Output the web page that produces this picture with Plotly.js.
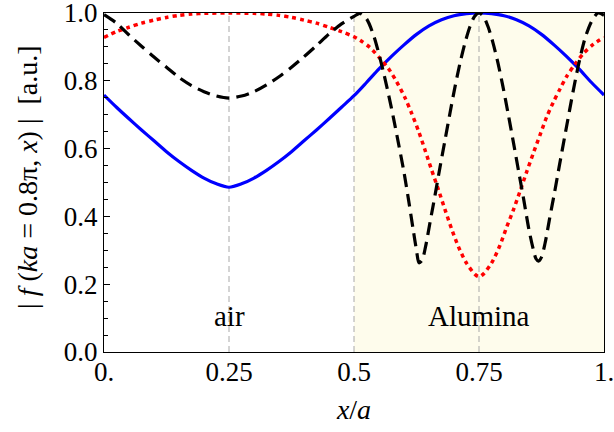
<!DOCTYPE html>
<html>
<head>
<meta charset="utf-8">
<script src="https://cdn.plot.ly/plotly-3.0.1.min.js"></script>
<style>html,body{margin:0;padding:0;background:#fff;}#chart{width:614px;height:432px;}</style>
</head>
<body>
<div id="chart"></div>
<script>
// Blue (solid) curve
const blueX = [0, 0.025, 0.05, 0.075, 0.1, 0.125, 0.15, 0.175, 0.2, 0.225, 0.25, 0.275, 0.3, 0.325, 0.35, 0.375, 0.4, 0.425, 0.45, 0.475, 0.5,
  0.525, 0.55, 0.575, 0.6, 0.625, 0.65, 0.675, 0.7, 0.725, 0.75, 0.775, 0.8, 0.825, 0.85, 0.875, 0.9, 0.925, 0.95, 0.975, 1.0];
const blueY = [0.758, 0.722, 0.688, 0.655, 0.623, 0.591, 0.562, 0.536, 0.513, 0.496, 0.486, 0.496, 0.513, 0.536, 0.562, 0.591, 0.623, 0.655, 0.688, 0.722, 0.756,
  0.795, 0.835, 0.872, 0.906, 0.937, 0.962, 0.980, 0.992, 0.998, 1.0, 0.998, 0.992, 0.980, 0.962, 0.937, 0.906, 0.872, 0.835, 0.795, 0.758];

// Red (dotted) curve
const redX = [0, 0.025, 0.05, 0.075, 0.1, 0.125, 0.15, 0.175, 0.2, 0.25, 0.3, 0.325, 0.35, 0.375, 0.4, 0.425, 0.45, 0.475, 0.5,
  0.512, 0.532, 0.552, 0.569, 0.585, 0.602, 0.615, 0.629, 0.642, 0.655, 0.669, 0.682, 0.695, 0.709, 0.725, 0.742, 0.75,
  0.758, 0.775, 0.792, 0.805, 0.819, 0.832, 0.845, 0.859, 0.872, 0.885, 0.899, 0.912, 0.925, 0.942, 0.959, 0.979, 1.0];
const redY = [0.928, 0.945, 0.958, 0.970, 0.979, 0.987, 0.993, 0.997, 0.999, 1.0, 0.999, 0.997, 0.993, 0.987, 0.979, 0.970, 0.958, 0.945, 0.930,
  0.920, 0.898, 0.866, 0.836, 0.798, 0.750, 0.705, 0.652, 0.596, 0.538, 0.478, 0.420, 0.364, 0.310, 0.262, 0.229, 0.222,
  0.229, 0.262, 0.315, 0.367, 0.420, 0.474, 0.530, 0.588, 0.640, 0.692, 0.738, 0.776, 0.812, 0.849, 0.881, 0.908, 0.928];

// Black (dashed) curve
const blackX = [0, 0.025, 0.05, 0.075, 0.1, 0.125, 0.15, 0.175, 0.2, 0.225, 0.25, 0.275, 0.3, 0.325, 0.35, 0.375, 0.4, 0.425, 0.45, 0.475, 0.5, 0.512,
  0.525, 0.539, 0.549, 0.559, 0.569, 0.579, 0.589, 0.6, 0.61, 0.619, 0.625, 0.63, 0.636, 0.643, 0.652, 0.662, 0.672, 0.682, 0.692, 0.702, 0.712, 0.722, 0.732, 0.741, 0.75,
  0.759, 0.768, 0.778, 0.788, 0.798, 0.808, 0.818, 0.829, 0.84, 0.85, 0.859, 0.864, 0.869, 0.875, 0.882, 0.891, 0.901, 0.911, 0.921, 0.931, 0.941, 0.951, 0.962, 0.975, 0.988, 1.0];
const blackY = [0.995, 0.970, 0.935, 0.902, 0.870, 0.840, 0.810, 0.786, 0.768, 0.755, 0.749, 0.755, 0.768, 0.788, 0.812, 0.840, 0.871, 0.904, 0.938, 0.968, 0.99, 0.999,
  0.983, 0.935, 0.884, 0.825, 0.760, 0.690, 0.615, 0.530, 0.440, 0.355, 0.300, 0.263, 0.270, 0.310, 0.382, 0.462, 0.545, 0.625, 0.705, 0.782, 0.852, 0.912, 0.960, 0.990, 1.0,
  0.990, 0.960, 0.912, 0.852, 0.782, 0.705, 0.625, 0.535, 0.445, 0.360, 0.300, 0.275, 0.268, 0.280, 0.320, 0.392, 0.470, 0.552, 0.632, 0.712, 0.790, 0.860, 0.925, 0.975, 1.0, 0.993];

const xTickVals = [0, 0.25, 0.5, 0.75, 1.0];
const xTickText = ['0.', '0.25', '0.5', '0.75', '1.'];
const yTickVals = [0, 0.2, 0.4, 0.6, 0.8, 1.0];
const yTickText = ['0.0', '0.2', '0.4', '0.6', '0.8', '1.0'];
const regionLabels = ['air', 'Alumina'];
const regionLabelX = [0.25, 0.75];
const dividerX = [0.25, 0.5, 0.75];
const yTitle = '|\u00a0<i>f</i>\u00a0(<i>ka</i> = 0.8π, <i>x</i>)\u00a0|\u00a0\u00a0[a.u.]';
const xTitle = '<i>x</i>/<i>a</i>';

const FONT = 'Liberation Serif';

const traces = [
  {x: blueX, y: blueY, type: 'scatter', mode: 'lines', line: {color: '#0000ff', width: 3.2, shape: 'spline', smoothing: 0.8}, hoverinfo: 'skip'},
  {x: redX, y: redY, type: 'scatter', mode: 'lines', line: {color: '#ff0000', width: 3.5, dash: '4px,4px', shape: 'spline', smoothing: 0.8}, hoverinfo: 'skip'},
  {x: blackX, y: blackY, type: 'scatter', mode: 'lines', line: {color: '#000000', width: 3.2, dash: '13px,7px', shape: 'spline', smoothing: 0.8}, hoverinfo: 'skip'}
];

const shapes = [
  {type: 'rect', xref: 'x', yref: 'y', x0: 0.5, x1: 1.0, y0: 0, y1: 1, fillcolor: '#fefcec', line: {width: 0}, layer: 'below'}
].concat(dividerX.map(v => ({
  type: 'line', xref: 'x', yref: 'y', x0: v, x1: v, y0: 0, y1: 1, line: {color: '#a8a8a8', width: 1, dash: '6px,4px'}, layer: 'below'
})));

const annotations = regionLabels.map((t, i) => ({
  x: regionLabelX[i], y: 0.105, xref: 'x', yref: 'y', text: t, showarrow: false,
  font: {family: FONT, size: 29, color: '#000'}, xanchor: 'center', yanchor: 'middle'
}));
annotations.push({
  x: -0.153, y: 0.515, xref: 'paper', yref: 'paper', text: yTitle, textangle: -90, showarrow: false,
  font: {family: FONT, size: 28, color: '#000'}, xanchor: 'center', yanchor: 'middle'
});

const layout = {
  width: 614, height: 432,
  margin: {l: 104, r: 10, t: 13, b: 80},
  paper_bgcolor: '#fff', plot_bgcolor: '#fff',
  showlegend: false,
  font: {family: FONT, size: 26, color: '#000'},
  xaxis: {
    range: [0, 1], tickvals: xTickVals, ticktext: xTickText, ticks: '',
    showgrid: false, zeroline: false, showline: true, linecolor: '#000', linewidth: 1.2, mirror: true,
    ticklabeloverflow: 'allow', ticklabelstandoff: -5,
    tickfont: {family: FONT, size: 27, color: '#000'},
    title: {text: xTitle, font: {family: FONT, size: 28, color: '#000'}, standoff: 13}
  },
  yaxis: {
    range: [0, 1], tickvals: yTickVals, ticktext: yTickText, ticks: 'inside', ticklen: 6, tickwidth: 1, tickcolor: '#000',
    minor: {dtick: 0.05, ticks: 'inside', ticklen: 4, tickwidth: 1, tickcolor: '#000', showgrid: false},
    showgrid: false, zeroline: false, showline: true, linecolor: '#000', linewidth: 1.2, mirror: true,
    ticklabeloverflow: 'allow',
    tickfont: {family: FONT, size: 27, color: '#000'}
  },
  shapes: shapes,
  annotations: annotations
};

Plotly.newPlot('chart', traces, layout, {staticPlot: true, displayModeBar: false});
</script>
</body>
</html>
